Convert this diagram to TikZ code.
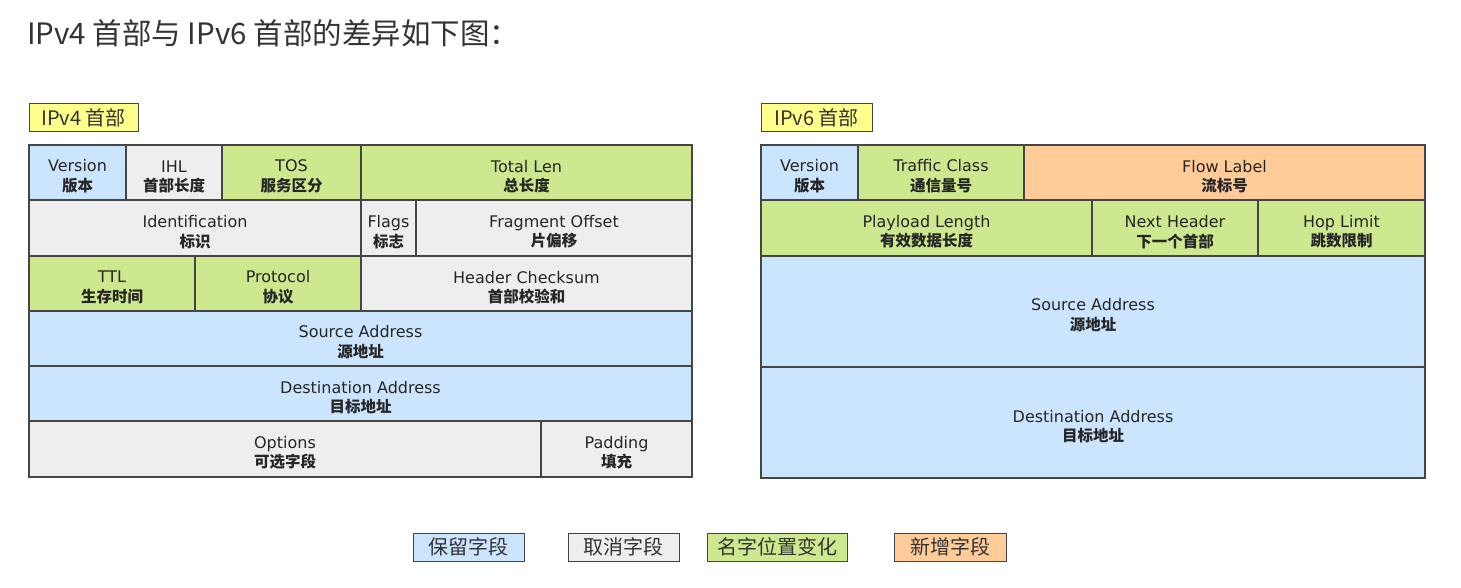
\documentclass[tikz,border=0pt]{standalone}
\usepackage{fontspec}
\setmainfont{Noto Sans CJK SC}
\newfontfamily\latinfont{DejaVu Sans}
\definecolor{keepblue}{HTML}{CCE5FF}
\definecolor{dropgray}{HTML}{EEEEEE}
\definecolor{movegreen}{HTML}{CDE88E}
\definecolor{addorange}{HTML}{FFCC99}
\definecolor{tagyellow}{HTML}{FFFF8C}
\definecolor{linegray}{HTML}{454545}
\definecolor{inkgray}{HTML}{333333}
\def\fieldsize{\fontsize{15.5}{19.5}\selectfont}
\def\tagsize{\fontsize{20}{24}\selectfont}
\newcommand\fieldname[2]{\rule{0pt}{20pt}{\latinfont\fontsize{16}{19.5}\selectfont #1}\\\textbf{#2}}
\tikzset{field/.style={draw=linegray, line width=1.3pt, inner sep=0pt, outer sep=0pt, align=center, text=black!85, font=\fieldsize}}
\tikzset{keepfield/.style={field, fill=keepblue}}
\tikzset{dropfield/.style={field, fill=dropgray}}
\tikzset{movefield/.style={field, fill=movegreen}}
\tikzset{newfield/.style={field, fill=addorange}}
\tikzset{tagbox/.style={draw=linegray, line width=1pt, inner sep=0pt, minimum height=28, text=inkgray, font=\tagsize}}

\begin{document}
\begin{tikzpicture}[x=1pt, y=-1pt]
\useasboundingbox (0,0) rectangle (1461,588);
\node (title) [anchor=base west, text=inkgray, font=\fontsize{29.5}{33}\selectfont, inner sep=0pt] at (27,45) {IPv4 首部与 IPv6 首部的差异如下图：};

% IPv4
\node (v4tag) [tagbox, fill=tagyellow, minimum width=109] at (83.5,118) {IPv4 首部};
\node (v4ver) [keepfield, minimum width=97, minimum height=55] at (77.5,172.5) {\fieldname{Version}{版本}};
\node (v4ihl) [dropfield, minimum width=96, minimum height=55] at (174,172.5) {\fieldname{IHL}{首部长度}};
\node (v4tos) [movefield, minimum width=139, minimum height=55] at (291.5,172.5) {\fieldname{TOS}{服务区分}};
\node (v4len) [movefield, minimum width=331, minimum height=55] at (526.5,172.5) {\fieldname{Total Len}{总长度}};
\node (v4id) [dropfield, minimum width=332, minimum height=56] at (195,228) {\fieldname{Identification}{标识}};
\node (v4flags) [dropfield, minimum width=55, minimum height=56] at (388.5,228) {\fieldname{Flags}{标志}};
\node (v4frag) [dropfield, minimum width=276, minimum height=56] at (554,228) {\fieldname{Fragment Offset}{片偏移}};
\node (v4ttl) [movefield, minimum width=166, minimum height=55] at (112,283.5) {\fieldname{TTL}{生存时间}};
\node (v4proto) [movefield, minimum width=166, minimum height=55] at (278,283.5) {\fieldname{Protocol}{协议}};
\node (v4sum) [dropfield, minimum width=331, minimum height=55] at (526.5,283.5) {\fieldname{Header Checksum}{首部校验和}};
\node (v4src) [keepfield, minimum width=663, minimum height=55] at (360.5,338.5) {\fieldname{Source Address}{源地址}};
\node (v4dst) [keepfield, minimum width=663, minimum height=55] at (360.5,393.5) {\fieldname{Destination Address}{目标地址}};
\node (v4opt) [dropfield, minimum width=512, minimum height=56] at (285,449) {\fieldname{Options}{可选字段}};
\node (v4pad) [dropfield, minimum width=151, minimum height=56] at (616.5,449) {\fieldname{Padding}{填充}};

% IPv6
\node (v6tag) [tagbox, fill=tagyellow, minimum width=111] at (816.5,118) {IPv6 首部};
\node (v6ver) [keepfield, minimum width=97, minimum height=55] at (809.5,172.5) {\fieldname{Version}{版本}};
\node (v6tc) [movefield, minimum width=166, minimum height=55] at (941,172.5) {\fieldname{Traffic Class}{通信量号}};
\node (v6flow) [newfield, minimum width=401, minimum height=55] at (1224.5,172.5) {\fieldname{Flow Label}{流标号}};
\node (v6len) [movefield, minimum width=331, minimum height=56] at (926.5,228) {\fieldname{Playload Length}{有效数据长度}};
\node (v6next) [movefield, minimum width=166, minimum height=56] at (1175,228) {\fieldname{Next Header}{下一个首部}};
\node (v6hop) [movefield, minimum width=167, minimum height=56] at (1341.5,228) {\fieldname{Hop Limit}{跳数限制}};
\node (v6src) [keepfield, minimum width=664, minimum height=111] at (1093,311.5) {\fieldname{Source Address}{源地址}};
\node (v6dst) [keepfield, minimum width=664, minimum height=111] at (1093,422.5) {\fieldname{Destination Address}{目标地址}};

% legend
\node (keepkey) [tagbox, fill=keepblue, minimum width=111] at (468.5,547) {保留字段};
\node (dropkey) [tagbox, fill=dropgray, minimum width=111] at (623.5,547) {取消字段};
\node (movekey) [tagbox, fill=movegreen, minimum width=140] at (777,547) {名字位置变化};
\node (newkey) [tagbox, fill=addorange, minimum width=112] at (950,547) {新增字段};
\end{tikzpicture}
\end{document}
